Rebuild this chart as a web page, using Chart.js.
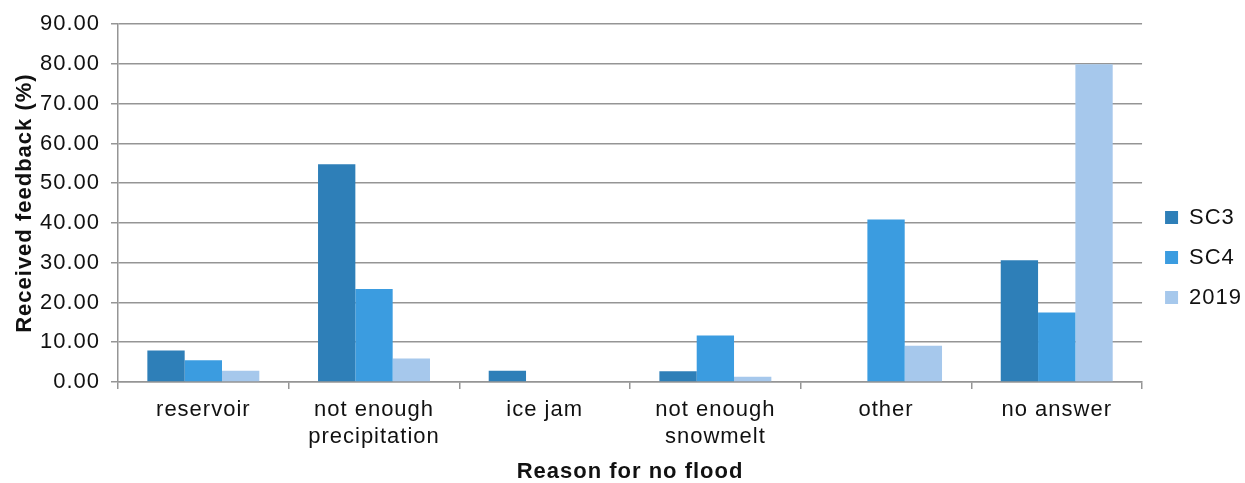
<!DOCTYPE html>
<html>
<head>
<meta charset="utf-8">
<script src="https://cdn.jsdelivr.net/npm/chart.js@4"></script>
<style>
  body { margin: 0; background: #fff; }
</style>
</head>
<body>
<canvas id="chart" width="1245" height="483"></canvas>
<script>
// categories on the x axis
const categories = [
    'reservoir',
    ['not enough', 'precipitation'],
    'ice jam',
    ['not enough', 'snowmelt'],
    'other',
    'no answer'
];

// received feedback (%) per series
const sc3Values = [7.9, 54.8, 2.8, 2.7, 0, 30.6];
const sc4Values = [5.5, 23.4, 0, 11.7, 40.9, 17.5];
const y2019Values = [2.8, 5.9, 0, 1.3, 9.1, 79.9];

const seriesLabels = ['SC3', 'SC4', '2019'];
const seriesColors = ['#2e7fb8', '#3b9ce0', '#a6c8ec'];

const yTicks = [0, 10, 20, 30, 40, 50, 60, 70, 80, 90];

const fontFamily = '"Liberation Sans", Arial, sans-serif';
const gridColor = '#959595';

// the excel export has wide letter spacing, mimic it on the canvas
const spacingPlugin = {
    id: 'spacing',
    beforeInit(chart) { chart.ctx.letterSpacing = '1px'; },
    beforeUpdate(chart) { chart.ctx.letterSpacing = '1px'; },
    beforeDraw(chart) { chart.ctx.letterSpacing = '1px'; },
    afterLayout(chart) {
        // nudge legend a bit right and down like the original
        const lg = chart.legend;
        lg.left += 5; lg.right += 5;
        lg.top += 4; lg.bottom += 4;
    }
};

const ctx = document.getElementById('chart').getContext('2d');
new Chart(ctx, {
    type: 'bar',
    data: {
        labels: categories,
        datasets: [sc3Values, sc4Values, y2019Values].map((vals, i) => ({
            label: seriesLabels[i],
            data: vals,
            backgroundColor: seriesColors[i],
            borderWidth: 0,
            categoryPercentage: 0.656,
            barPercentage: 1.0
        }))
    },
    plugins: [spacingPlugin],
    options: {
        responsive: false,
        animation: false,
        layout: {
            padding: { top: 24, right: -2, left: 4, bottom: 0 }
        },
        scales: {
            x: {
                afterFit: (scale) => { scale.height = 101; },
                grid: {
                    display: true,
                    drawOnChartArea: false,
                    offset: true,
                    tickLength: 7,
                    color: gridColor,
                    lineWidth: 1.5
                },
                border: { color: gridColor, width: 1.5 },
                ticks: {
                    color: '#111',
                    font: { family: fontFamily, size: 22 },
                    maxRotation: 0,
                    padding: 8
                },
                title: {
                    display: true,
                    text: 'Reason for no flood',
                    color: '#111',
                    font: { family: fontFamily, size: 22, weight: 'bold', lineHeight: 1 },
                    padding: { top: 10, bottom: 0 }
                }
            },
            y: {
                min: 0,
                max: 90,
                afterFit: (scale) => { scale.width = 114; },
                afterBuildTicks: (axis) => {
                    axis.ticks = yTicks.map(v => ({ value: v }));
                },
                grid: {
                    color: gridColor,
                    lineWidth: 1.5,
                    tickLength: 7
                },
                border: { color: gridColor, width: 1.5 },
                ticks: {
                    color: '#111',
                    font: { family: fontFamily, size: 22 },
                    padding: 11,
                    callback: (v) => Number(v).toFixed(2)
                },
                title: {
                    display: true,
                    text: 'Received feedback (%)',
                    color: '#111',
                    font: { family: fontFamily, size: 22, weight: 'bold' },
                    padding: { top: 8, bottom: 2 }
                }
            }
        },
        plugins: {
            legend: {
                position: 'right',
                align: 'center',
                labels: {
                    color: '#111',
                    font: { family: fontFamily, size: 22 },
                    boxWidth: 13,
                    boxHeight: 13,
                    padding: 18
                }
            },
            tooltip: { enabled: false }
        }
    }
});
</script>
</body>
</html>
